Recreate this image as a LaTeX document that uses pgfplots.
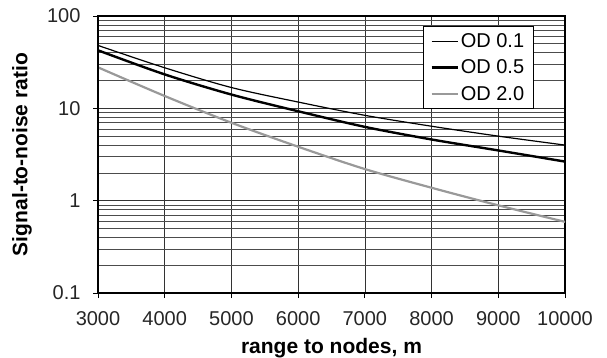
\documentclass[border=0pt]{standalone}
\usepackage{pgfplots}
\pgfplotsset{compat=1.18}
\usepackage{fontspec}
\setmainfont{Liberation Sans}
\begin{document}
\begin{tikzpicture}
\begin{axis}[
  scale only axis, width=467pt, height=277pt,
  xmin=3000, xmax=10000, ymode=log, ymin=0.1, ymax=100,
  xtick={3000,4000,5000,6000,7000,8000,9000,10000},
  ytick={0.1,1,10,100}, yticklabels={0.1,1,10,100},
  minor ytick={0.2,0.3,0.4,0.5,0.6,0.7,0.8,0.9,2,3,4,5,6,7,8,9,20,30,40,50,60,70,80,90},
  xmajorgrids, ymajorgrids, yminorgrids,
  major grid style={black!80, line width=0.6pt},
  minor grid style={black!70, line width=0.6pt},
  tick pos=left, tick align=outside, major tick length=5pt, minor tick length=0pt,
  tick style={black, line width=0.8pt},
  scaled x ticks=false,
  x tick label style={/pgf/number format/1000 sep={}, yshift=-10pt},
  y tick label style={xshift=-9pt},
  /pgf/number format/assume math mode=true,
  tick label style={font=\fontsize{20}{24}\selectfont, text=black!85},
  xlabel={range to nodes, m}, ylabel={Signal-to-noise ratio},
  label style={font=\bfseries\fontsize{21}{25}\selectfont},
  xlabel style={at={(axis description cs:0.5,-0.217)}, anchor=base},
  ylabel style={at={(axis description cs:-0.163,0.5)}, anchor=center},
  axis line style={line width=1.3pt},
  legend style={at={(axis description cs:0.696,0.964)}, anchor=north west,
    draw=black, line width=0.8pt, fill=white, font=\fontsize{20}{24}\selectfont,
    row sep=7pt, inner xsep=7pt, inner ysep=5pt,
    nodes={inner sep=2pt}},
  legend cell align=left,
  legend image code/.code={\draw[#1] (0pt,0pt) -- (26pt,0pt);},
]
\addplot[black, line width=1.2pt, smooth] coordinates {
  (3000,48) (4000,27.5) (5000,16.8) (6000,11.7) (7000,8.4) (8000,6.4) (9000,5.0) (10000,4.0)};
\addlegendentry{OD 0.1}
\addplot[black, line width=2.4pt, smooth] coordinates {
  (3000,42.5) (4000,23.3) (5000,14.1) (6000,9.3) (7000,6.3) (8000,4.6) (9000,3.5) (10000,2.65)};
\addlegendentry{OD 0.5}
\addplot[black!40, line width=2.2pt, smooth] coordinates {
  (3000,27.8) (4000,13.6) (5000,6.98) (6000,3.84) (7000,2.2) (8000,1.38) (9000,0.89) (10000,0.59)};
\addlegendentry{OD 2.0}
\draw[line width=2.4pt, black] (rel axis cs:0,1) -- (rel axis cs:0,0) -- (rel axis cs:1,0);
\end{axis}
\pgfresetboundingbox
\path (current axis.south west) ++(-98pt,-64pt) coordinate (bl);
\path (current axis.north east) ++(42pt,16pt) coordinate (tr);
\path (bl) rectangle (tr);
\end{tikzpicture}
\end{document}
